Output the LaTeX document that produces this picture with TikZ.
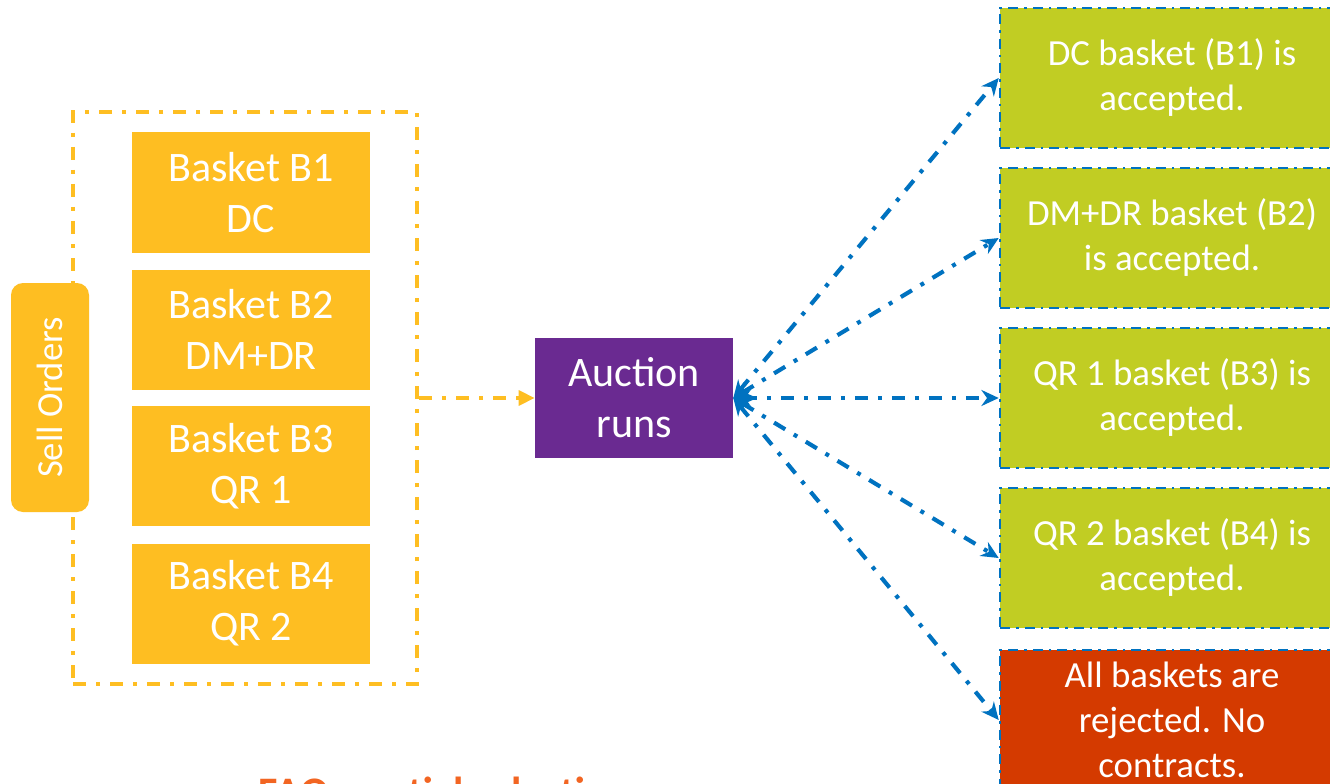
\documentclass[tikz,border=0pt]{standalone}
\usepackage{fontspec}
\setmainfont{Carlito}
\usetikzlibrary{arrows.meta}
\definecolor{ora}{RGB}{254,190,34}
\definecolor{pur}{RGB}{106,42,145}
\definecolor{grn}{RGB}{193,205,35}
\definecolor{redb}{RGB}{212,58,0}
\definecolor{blu}{RGB}{0,114,192}
\definecolor{faqc}{RGB}{242,101,34}
\begin{document}
\begin{tikzpicture}[x=0.75pt,y=-0.75pt,
  thickdd/.style={line width=3.1pt,dash pattern=on 9.75pt off 7.5pt on 3pt off 7.5pt},
  thindd/.style={line width=1.9pt,dash pattern=on 7.5pt off 4.5pt on 1.9pt off 4.5pt},
  basket/.style={fill=ora,text=white,inner sep=0pt,minimum width=178.5pt,minimum height=90pt,
    align=center,font=\fontsize{31.5}{38.25}\selectfont},
  result/.style={draw=blu,thindd,text=white,inner sep=0pt,minimum width=258pt,minimum height=105pt,
    align=center,font=\fontsize{27.6}{33.75}\selectfont},
  container/.style={draw=ora,thickdd,minimum width=258pt,minimum height=429pt,inner sep=0pt},
  sellbox/.style={fill=ora,text=white,rounded corners=9pt,rotate=90,minimum width=171.75pt,
    minimum height=58.5pt,inner sep=0pt,font=\fontsize{27.5}{33}\selectfont},
  auction/.style={fill=pur,text=white,inner sep=0pt,minimum width=148.5pt,minimum height=90pt,
    align=center,font=\fontsize{31.5}{38.25}\selectfont},
  orarrow/.style={draw=ora,thickdd,-{Triangle[length=12pt,width=11pt]}},
  bluarrow/.style={draw=blu,thickdd,{Stealth[length=13pt,width=12pt]}-{Stealth[length=13pt,width=12pt]}},
  faqtext/.style={text=faqc,anchor=base west,inner sep=0pt,font=\bfseries\fontsize{31.5}{38}\selectfont}
]
\useasboundingbox (0,0) rectangle (1330,784);
\begin{scope}
\clip (0,0) rectangle (1330,784);
\fill[white] (0,0) rectangle (1330,784);
% left group
\node[container] (sell) at (245,398) {};
\node[sellbox] (so) at (50,397.5) {Sell Orders};
\node[basket] (b1) at (251,192.5) {Basket B1\\DC};
\node[basket] (b2) at (251,329.5) {Basket B2\\DM+DR};
\node[basket] (b3) at (251,466) {Basket B3\\QR 1};
\node[basket] (b4) at (251,603.5) {Basket B4\\QR 2};
% auction
\node[auction] (auc) at (634,398) {Auction\\runs};
% results
\node[result,fill=grn] (r1) at (1172,78) {DC basket (B1) is\\accepted.};
\node[result,fill=grn] (r2) at (1172,238) {DM+DR basket (B2)\\is accepted.};
\node[result,fill=grn] (r3) at (1172,398) {QR 1 basket (B3) is\\accepted.};
\node[result,fill=grn] (r4) at (1172,558) {QR 2 basket (B4) is\\accepted.};
\node[result,fill=redb] (r5) at (1172,720) {All baskets are\\rejected. No\\contracts.};
% connectors
\draw[orarrow] (sell.east) -- (auc.west);
\foreach \r in {r1,r2,r3,r4,r5}{
  \draw[bluarrow] (auc.east) -- (\r.west);
}
% cut-off caption
\node[faqtext] (faq) at (258,806) {FAQ: partial selection};
\end{scope}
\end{tikzpicture}
\end{document}
